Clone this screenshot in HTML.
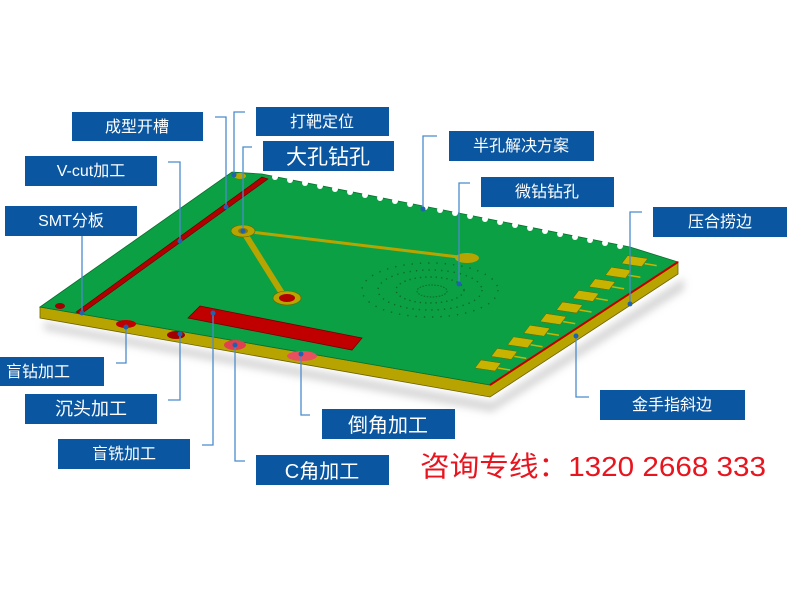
<!DOCTYPE html>
<html><head><meta charset="utf-8"><style>
html,body{margin:0;padding:0;background:#fff;width:787px;height:590px;overflow:hidden}
svg{display:block}
.b{fill:#0a56a0}
.t{fill:#fff;font-family:"Liberation Sans","Noto Sans CJK SC",sans-serif;font-size:16px;text-anchor:middle}
.L{fill:none;stroke:#4a8ccc;stroke-width:1.3}
.d{fill:#1f63b0}
</style></head><body>
<svg width="787" height="590" viewBox="0 0 787 590" xmlns="http://www.w3.org/2000/svg">
<defs><filter id="sh" x="-10%" y="-10%" width="120%" height="130%"><feGaussianBlur stdDeviation="4"/></filter>
<g id="pad"><polygon points="481,360 501,363 495,371 475,368" fill="#c8b400" stroke="#6d6200" stroke-width="0.5"/><line x1="498" y1="368" x2="510" y2="370" stroke="#c8b400" stroke-width="1.5"/></g></defs>
<polygon points="44,322 492,402 684,278 684,290 492,412 44,330" fill="#bbb" filter="url(#sh)" opacity="0.6"/>
<polygon points="40,307 490,385 678,262 678,274 490,397 40,318" fill="#b8a400" stroke="#6d6200" stroke-width="0.8"/>
<polygon points="40,307 232,172 262,174 630,247 678,262 490,385" fill="#0ba043" stroke="#0a6f2e" stroke-width="0.8"/>
<g fill="#fff">
<circle cx="275" cy="177" r="3"/><circle cx="290" cy="180" r="3"/><circle cx="305" cy="183" r="3"/><circle cx="320" cy="186" r="3"/><circle cx="335" cy="189" r="3"/><circle cx="350" cy="192" r="3"/><circle cx="365" cy="195" r="3"/><circle cx="380" cy="198" r="3"/><circle cx="395" cy="201" r="3"/><circle cx="410" cy="204" r="3"/><circle cx="425" cy="207" r="3"/><circle cx="440" cy="210" r="3"/><circle cx="455" cy="213" r="3"/><circle cx="470" cy="216" r="3"/><circle cx="485" cy="219" r="3"/><circle cx="500" cy="222" r="3"/><circle cx="515" cy="225" r="3"/><circle cx="530" cy="228" r="3"/><circle cx="545" cy="231" r="3"/><circle cx="560" cy="234" r="3"/><circle cx="575" cy="237" r="3"/><circle cx="590" cy="240" r="3"/><circle cx="605" cy="243" r="3"/><circle cx="620" cy="246" r="3"/>
</g>
<line x1="490" y1="385" x2="678" y2="262" stroke="#c00000" stroke-width="2"/>
<polygon points="262,177 268,179 81,314 76,312" fill="#b00000" stroke="#600" stroke-width="0.6"/>
<polygon points="200,306 362,338 352,350 188,318" fill="#c00000" stroke="#700" stroke-width="0.8"/>
<ellipse cx="126" cy="324" rx="10" ry="4" fill="#c00000"/>
<ellipse cx="176" cy="335" rx="9" ry="4" fill="#a00000"/>
<ellipse cx="235" cy="345" rx="11" ry="5" fill="#e04050"/>
<ellipse cx="302" cy="356" rx="15" ry="5" fill="#e85060"/>
<ellipse cx="60" cy="306" rx="5" ry="3" fill="#a00000"/>
<ellipse cx="240" cy="176" rx="6" ry="3" fill="#b8a400"/>
<ellipse cx="475" cy="389" rx="6" ry="3" fill="#b8a400"/>
<line x1="243" y1="231" x2="285" y2="298" stroke="#b8a400" stroke-width="6"/>
<line x1="243" y1="231" x2="467" y2="258" stroke="#b8a400" stroke-width="3"/>
<ellipse cx="243" cy="231" rx="12" ry="6" fill="#b8a400" stroke="#6d6200" stroke-width="0.6"/>
<ellipse cx="243" cy="231" rx="5" ry="3" fill="#8a7a00"/>
<ellipse cx="287" cy="298" rx="14" ry="7" fill="#b8a400" stroke="#6d6200" stroke-width="0.6"/>
<ellipse cx="287" cy="298" rx="8" ry="4" fill="#b00000"/>
<ellipse cx="467" cy="258" rx="12" ry="5" fill="#b8a400"/>
<g>
<ellipse cx="432" cy="291" rx="15" ry="6" fill="none" stroke="#0a6a2a" stroke-width="1" stroke-dasharray="1.5 1.5"/>
<ellipse cx="430" cy="290" rx="34" ry="13" fill="none" stroke="#0a6a2a" stroke-width="1.4" stroke-dasharray="1.3 4"/>
<ellipse cx="430" cy="290" rx="52" ry="20" fill="none" stroke="#0a6a2a" stroke-width="1.4" stroke-dasharray="1.3 5"/>
<ellipse cx="430" cy="290" rx="68" ry="27" fill="none" stroke="#0a6a2a" stroke-width="1.4" stroke-dasharray="1.3 7"/>
</g>
<use href="#pad" transform="translate(0,0)"/>
<use href="#pad" transform="translate(16.3,-11.6)"/>
<use href="#pad" transform="translate(32.6,-23.2)"/>
<use href="#pad" transform="translate(48.9,-34.8)"/>
<use href="#pad" transform="translate(65.2,-46.4)"/>
<use href="#pad" transform="translate(81.5,-58)"/>
<use href="#pad" transform="translate(97.8,-69.6)"/>
<use href="#pad" transform="translate(114.1,-81.2)"/>
<use href="#pad" transform="translate(130.4,-92.8)"/>
<use href="#pad" transform="translate(146.7,-104.4)"/>
<polyline class="L" points="215,117 226,117 226,207"/>
<polyline class="L" points="245,112 234,112 234,175"/>
<polyline class="L" points="252,147 243,147 243,231"/>
<polyline class="L" points="168,162 180,162 180,241"/>
<polyline class="L" points="82,236 82,313"/>
<polyline class="L" points="437,136 423,136 423,209"/>
<polyline class="L" points="470,183 459,183 459,284"/>
<polyline class="L" points="642,212 630,212 630,304"/>
<polyline class="L" points="589,397 576,397 576,336"/>
<polyline class="L" points="116,363 126,363 126,327"/>
<polyline class="L" points="168,400 180,400 180,334"/>
<polyline class="L" points="202,445 213,445 213,313"/>
<polyline class="L" points="245,461 235,461 235,345"/>
<polyline class="L" points="310,415 301,415 301,354"/>
<g class="d">
<circle cx="226" cy="207" r="2.5"/><circle cx="234" cy="175" r="2.5"/><circle cx="243" cy="231" r="2.5"/><circle cx="180" cy="241" r="2.5"/><circle cx="82" cy="313" r="2.5"/><circle cx="423" cy="209" r="2.5"/><circle cx="459" cy="284" r="2.5"/><circle cx="630" cy="304" r="2.5"/><circle cx="576" cy="336" r="2.5"/><circle cx="126" cy="327" r="2.5"/><circle cx="180" cy="334" r="2.5"/><circle cx="213" cy="313" r="2.5"/><circle cx="235" cy="345" r="2.5"/><circle cx="301" cy="354" r="2.5"/>
</g>
<rect class="b" x="72" y="112" width="131" height="29"/><text class="t" x="137" y="132">成型开槽</text>
<rect class="b" x="256" y="107" width="133" height="29"/><text class="t" x="322" y="127">打靶定位</text>
<rect class="b" x="263" y="141" width="131" height="30"/><text class="t" x="328" y="164" style="font-size:21px">大孔钻孔</text>
<rect class="b" x="25" y="156" width="132" height="30"/><text class="t" x="91" y="176">V-cut加工</text>
<rect class="b" x="5" y="206" width="132" height="30"/><text class="t" x="71" y="226">SMT分板</text>
<rect class="b" x="449" y="131" width="145" height="30"/><text class="t" x="521" y="151">半孔解决方案</text>
<rect class="b" x="481" y="177" width="133" height="30"/><text class="t" x="547" y="197">微钻钻孔</text>
<rect class="b" x="653" y="207" width="134" height="30"/><text class="t" x="720" y="227">压合捞边</text>
<rect class="b" x="0" y="357" width="104" height="29"/><text class="t" x="38" y="377">盲钻加工</text>
<rect class="b" x="25" y="394" width="132" height="30"/><text class="t" x="91" y="415" style="font-size:18px">沉头加工</text>
<rect class="b" x="58" y="439" width="132" height="30"/><text class="t" x="124" y="459">盲铣加工</text>
<rect class="b" x="322" y="409" width="133" height="30"/><text class="t" x="388" y="432" style="font-size:20px">倒角加工</text>
<rect class="b" x="256" y="455" width="133" height="30"/><text class="t" x="322" y="478" style="font-size:20px">C角加工</text>
<rect class="b" x="600" y="390" width="145" height="30"/><text class="t" x="672" y="410">金手指斜边</text>
<text x="420" y="476" textLength="346" lengthAdjust="spacingAndGlyphs" style="fill:#e8141e;font-family:'Liberation Sans','Noto Sans CJK SC',sans-serif;font-size:28px">咨询专线：1320 2668 333</text>
</svg>
</body></html>
